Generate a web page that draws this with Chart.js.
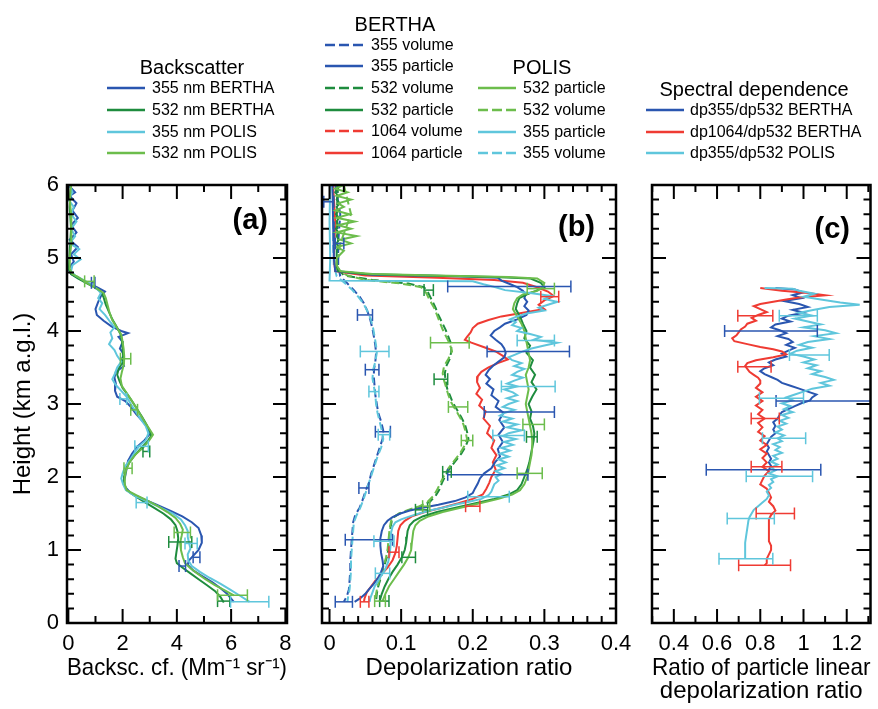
<!DOCTYPE html>
<html>
<head>
<meta charset="utf-8">
<title>Backscatter and depolarization profiles</title>
<script src="https://cdn.jsdelivr.net/npm/chart.js@4.4.1/dist/chart.umd.min.js"></script>
<style>
  html, body { margin: 0; padding: 0; background: #fff; }
  #wrap { position: relative; width: 878px; height: 709px; overflow: hidden; font-family: "Liberation Sans", Arial, sans-serif; color: #000; }
  #wrap canvas { position: absolute; top: 0; }
  .hd { position: absolute; font-size: 20px; line-height: 20px; white-space: nowrap; transform: translate(-50%, -50%); }
  .it { position: absolute; font-size: 16px; line-height: 16px; white-space: nowrap; }
  .ln { position: absolute; overflow: visible; }
  .pl { position: absolute; width: 80px; text-align: right; font-weight: bold; font-size: 29px; line-height: 29px; }
</style>
</head>
<body>
<div id="wrap">
  <canvas id="cA" width="300" height="709" style="left:0"></canvas>
  <canvas id="cB" width="340" height="709" style="left:300px"></canvas>
  <canvas id="cC" width="248" height="709" style="left:630px"></canvas>
  <div class="pl" style="left:188px;top:205px">(a)</div>
  <div class="pl" style="left:515px;top:212px">(b)</div>
  <div class="pl" style="left:770px;top:214px">(c)</div>
</div>
<script>
// axis ticks
const hTicks = [0, 1, 2, 3, 4, 5, 6];
const xTicksA = [0, 2, 4, 6, 8];
const xTicksB = [0, 0.1, 0.2, 0.3, 0.4];
const xTicksC = [0.4, 0.6, 0.8, 1, 1.2];

// (a) backscatter coefficient, Mm-1 sr-1
const hBsc355B = [6.0,5.9,5.85,5.75,5.65,5.55,5.45,5.35,5.25,5.15,5.05,4.95,4.85,4.78,4.72,4.66,4.6,4.54,4.48,4.4,4.3,4.22,4.14,4.06,4.0,3.97,3.92,3.85,3.76,3.68,3.6,3.52,3.44,3.36,3.28,3.18,3.1,3.04,2.96,2.86,2.76,2.66,2.58,2.5,2.42,2.32,2.22,2.12,2.02,1.94,1.86,1.78,1.7,1.62,1.54,1.46,1.38,1.3,1.2,1.1,1.0,0.92,0.86,0.8,0.72,0.64,0.56,0.48,0.4,0.29];
const bsc355B = [0,0.25,0.05,0.3,0.15,0.35,0.1,0.3,0.05,0.35,0.1,0.2,0,0.1,0.4,0.7,1.05,1.35,1.2,1.1,1.0,1.05,1.3,1.6,1.95,2.2,1.85,2.0,1.9,2.05,1.95,2.05,1.75,1.7,1.75,1.72,1.8,2.1,2.3,2.5,2.75,2.95,2.98,2.8,2.55,2.35,2.2,2.15,2.1,2.05,2.1,2.3,2.75,3.25,3.75,4.2,4.55,4.8,4.9,4.92,4.8,4.6,4.45,4.4,4.6,4.95,5.3,5.6,5.85,6.1];
const hBsc532B = [6.0,5.7,5.4,5.1,4.85,4.78,4.72,4.66,4.6,4.54,4.46,4.36,4.26,4.16,4.06,3.96,3.86,3.76,3.66,3.56,3.48,3.4,3.32,3.22,3.12,3.02,2.92,2.82,2.72,2.62,2.56,2.48,2.4,2.3,2.2,2.1,2.0,1.9,1.82,1.74,1.66,1.58,1.5,1.42,1.34,1.26,1.16,1.06,0.96,0.88,0.82,0.76,0.68,0.6,0.52,0.44,0.36,0.28];
const bsc532B = [0.1,0.05,0.1,0.05,0.02,0.1,0.35,0.65,0.95,1.2,1.3,1.38,1.5,1.62,1.78,1.92,1.98,2.0,2.02,1.98,1.85,1.8,1.88,2.0,2.2,2.38,2.55,2.72,2.88,3.02,3.05,2.9,2.7,2.45,2.25,2.12,2.05,2.06,2.15,2.45,2.8,3.15,3.5,3.78,3.95,4.02,4.05,4.02,3.98,3.95,4.0,4.2,4.5,4.8,5.1,5.4,5.6,5.73];
const hBsc355P = [6.0,5.9,5.8,5.7,5.6,5.5,5.4,5.3,5.2,5.12,5.05,4.98,4.9,4.82,4.76,4.7,4.64,4.58,4.52,4.45,4.38,4.3,4.22,4.12,4.05,3.98,3.9,3.82,3.74,3.66,3.58,3.5,3.42,3.34,3.26,3.18,3.1,3.0,2.9,2.8,2.7,2.6,2.5,2.42,2.34,2.25,2.15,2.05,1.98,1.9,1.82,1.74,1.66,1.58,1.5,1.42,1.34,1.26,1.18,1.1,1.02,0.94,0.86,0.78,0.7,0.62,0.54,0.46,0.38,0.29];
const bsc355P = [0.05,0.15,0,0.2,0.1,0.3,0.1,0.25,0.05,0.4,0.2,0.45,0.15,0.1,0.25,0.55,0.85,1.05,1.2,1.1,1.25,1.15,1.35,1.55,1.7,1.55,1.62,1.5,1.7,1.8,1.95,1.8,1.72,1.62,1.75,1.95,2.15,2.3,2.48,2.65,2.85,2.95,2.85,2.6,2.45,2.3,2.1,2.0,1.95,2.02,2.12,2.45,2.95,3.4,3.85,4.15,4.3,4.4,4.4,4.45,4.5,4.4,4.42,4.55,4.85,5.2,5.6,5.95,6.3,6.68];
const hBsc532P = [6.0,5.8,5.6,5.4,5.2,5.0,4.85,4.78,4.74,4.68,4.62,4.57,4.52,4.45,4.35,4.25,4.15,4.05,3.95,3.85,3.75,3.65,3.55,3.45,3.35,3.25,3.15,3.05,2.95,2.85,2.75,2.65,2.58,2.5,2.4,2.3,2.2,2.1,2.0,1.9,1.82,1.75,1.68,1.6,1.52,1.44,1.36,1.28,1.2,1.1,1.0,0.9,0.82,0.75,0.68,0.6,0.52,0.45,0.38];
const bsc532P = [0.1,0.05,0.1,0.12,0.1,0.05,0.05,0.15,0.35,0.6,0.85,1.1,1.3,1.38,1.45,1.52,1.62,1.78,1.95,2.0,2.04,2.06,2.05,1.98,1.92,1.97,2.15,2.33,2.5,2.66,2.82,3.0,3.12,2.98,2.75,2.45,2.25,2.13,2.08,2.08,2.15,2.5,2.9,3.3,3.65,3.95,4.12,4.22,4.18,4.12,4.15,4.22,4.3,4.5,4.75,5.05,5.4,5.75,6.1];
// error bars [height, low, high]
const errBsc355B = [[4.66,0.85,0.98],[0.9,4.6,4.85],[0.78,4.08,4.32]];
const errBsc532B = [[1.11,3.7,4.55],[2.35,2.75,3.0],[0.3,5.5,5.95]];
const errBsc355P = [[3.07,1.9,2.15],[2.42,2.45,2.95],[1.65,2.5,2.9],[1.09,4.3,4.75],[0.29,5.98,7.39]];
const errBsc532P = [[4.68,0.6,0.95],[3.62,1.92,2.3],[2.92,2.3,2.55],[2.12,2.05,2.35],[1.24,3.9,4.5],[0.38,5.5,6.6]];

// (b) depolarization ratio
const hVol355 = [6.0,5.6,5.2,4.9,4.75,4.65,4.56,4.47,4.38,4.27,4.15,4.03,3.92,3.8,3.7,3.58,3.47,3.35,3.24,3.12,3.0,2.88,2.76,2.64,2.52,2.4,2.28,2.16,2.04,1.92,1.8,1.68,1.58,1.48,1.38,1.26,1.14,1.0,0.86,0.72,0.58,0.46,0.36,0.29];
const vol355B = [0.008,0.015,0.012,0.012,0.015,0.025,0.034,0.042,0.048,0.053,0.057,0.06,0.062,0.064,0.065,0.064,0.062,0.062,0.063,0.064,0.066,0.068,0.072,0.075,0.074,0.07,0.066,0.062,0.058,0.055,0.05,0.046,0.042,0.036,0.033,0.032,0.031,0.03,0.029,0.029,0.028,0.027,0.024,0.02];
const vol355P = [0.004,0.006,0.005,0.006,0.01,0.022,0.032,0.04,0.047,0.053,0.058,0.061,0.063,0.065,0.066,0.064,0.061,0.06,0.062,0.064,0.065,0.067,0.07,0.073,0.075,0.072,0.067,0.063,0.059,0.055,0.051,0.047,0.043,0.038,0.034,0.033,0.032,0.031,0.03,0.03,0.029,0.028,0.026,0.025];
const hVol532 = [6.0,5.6,5.2,4.85,4.76,4.7,4.65,4.6,4.52,4.42,4.32,4.22,4.12,4.02,3.92,3.82,3.72,3.62,3.52,3.42,3.32,3.22,3.12,3.02,2.92,2.82,2.72,2.62,2.52,2.42,2.32,2.22,2.12,2.02,1.92,1.82,1.74,1.66,1.6,1.55,1.5,1.45,1.4,1.3,1.2,1.1,1.0,0.9,0.8,0.7,0.6,0.5,0.4,0.3];
const vol532B = [0.012,0.01,0.012,0.012,0.02,0.06,0.11,0.132,0.138,0.143,0.148,0.152,0.157,0.162,0.166,0.17,0.17,0.168,0.163,0.161,0.162,0.164,0.168,0.172,0.178,0.184,0.189,0.192,0.194,0.19,0.184,0.176,0.168,0.162,0.157,0.153,0.148,0.14,0.128,0.112,0.098,0.09,0.087,0.085,0.084,0.083,0.082,0.08,0.077,0.074,0.071,0.068,0.066,0.065];
const vol532P = [0.02,0.03,0.015,0.01,0.025,0.05,0.1,0.128,0.135,0.14,0.146,0.15,0.154,0.158,0.163,0.168,0.171,0.166,0.16,0.158,0.16,0.163,0.166,0.17,0.176,0.182,0.187,0.19,0.192,0.188,0.182,0.174,0.166,0.16,0.155,0.15,0.145,0.137,0.126,0.11,0.097,0.089,0.086,0.084,0.083,0.082,0.081,0.079,0.076,0.073,0.07,0.067,0.065,0.064];
const hPar532 = [6.0,5.95,5.9,5.85,5.8,5.75,5.7,5.65,5.6,5.55,5.5,5.45,5.4,5.35,5.3,5.25,5.2,5.15,5.1,5.0,4.9,4.82,4.78,4.76,4.74,4.72,4.66,4.6,4.55,4.5,4.45,4.38,4.3,4.2,4.1,4.0,3.9,3.8,3.7,3.6,3.5,3.4,3.3,3.2,3.1,3.0,2.9,2.8,2.7,2.6,2.5,2.4,2.3,2.2,2.1,2.0,1.9,1.82,1.76,1.7,1.64,1.58,1.52,1.46,1.4,1.34,1.26,1.18,1.1,1.0,0.9,0.8,0.7,0.6,0.5,0.4,0.3];
const par532B = [0.01,0.012,0.008,0.012,0.01,0.014,0.01,0.012,0.009,0.013,0.01,0.012,0.009,0.012,0.01,0.013,0.01,0.012,0.01,0.01,0.01,0.012,0.05,0.13,0.23,0.28,0.295,0.3,0.288,0.275,0.265,0.262,0.26,0.266,0.27,0.275,0.272,0.28,0.275,0.284,0.28,0.287,0.282,0.289,0.283,0.278,0.282,0.28,0.284,0.286,0.285,0.283,0.281,0.279,0.276,0.272,0.268,0.262,0.25,0.23,0.204,0.176,0.15,0.13,0.118,0.112,0.109,0.108,0.107,0.105,0.101,0.095,0.088,0.082,0.077,0.073,0.07];
const par532P = [0.02,0.008,0.025,0.01,0.03,0.012,0.02,0.008,0.028,0.01,0.035,0.012,0.03,0.01,0.038,0.015,0.03,0.01,0.02,0.01,0.01,0.015,0.06,0.15,0.25,0.29,0.3,0.298,0.29,0.27,0.262,0.258,0.256,0.262,0.268,0.272,0.274,0.276,0.278,0.28,0.278,0.274,0.276,0.278,0.276,0.274,0.276,0.278,0.28,0.282,0.283,0.283,0.282,0.28,0.278,0.276,0.272,0.266,0.255,0.236,0.21,0.183,0.158,0.138,0.126,0.12,0.117,0.116,0.115,0.114,0.11,0.104,0.097,0.09,0.083,0.078,0.074];
const hPar355B = [6.0,5.5,5.0,4.82,4.77,4.75,4.73,4.69,4.65,4.6,4.55,4.5,4.45,4.4,4.34,4.28,4.22,4.16,4.1,4.05,4.0,3.94,3.88,3.82,3.76,3.7,3.64,3.58,3.52,3.46,3.4,3.34,3.28,3.2,3.12,3.04,2.96,2.88,2.78,2.68,2.58,2.48,2.38,2.28,2.2,2.12,2.05,1.98,1.91,1.84,1.78,1.72,1.67,1.62,1.58,1.54,1.5,1.45,1.4,1.34,1.26,1.16,1.06,0.96,0.86,0.78,0.7,0.62,0.54,0.46,0.4,0.34,0.29];
const par355B = [0.004,0.005,0.006,0.008,0.06,0.18,0.235,0.24,0.25,0.262,0.27,0.274,0.272,0.276,0.272,0.278,0.275,0.262,0.245,0.238,0.23,0.225,0.232,0.24,0.244,0.246,0.244,0.236,0.228,0.222,0.218,0.224,0.219,0.229,0.226,0.236,0.232,0.243,0.237,0.244,0.236,0.242,0.235,0.238,0.231,0.226,0.216,0.21,0.207,0.203,0.2,0.19,0.175,0.152,0.13,0.112,0.099,0.088,0.081,0.076,0.073,0.071,0.071,0.072,0.074,0.075,0.072,0.068,0.062,0.055,0.05,0.043,0.035];
const hPar355P = [6.0,5.5,5.0,4.69,4.68,4.64,4.6,4.56,4.52,4.48,4.44,4.4,4.36,4.32,4.28,4.24,4.2,4.16,4.12,4.08,4.04,4.0,3.96,3.92,3.88,3.84,3.8,3.76,3.72,3.68,3.64,3.6,3.56,3.52,3.48,3.44,3.4,3.36,3.32,3.28,3.24,3.2,3.16,3.12,3.08,3.04,3.0,2.96,2.92,2.88,2.84,2.8,2.76,2.72,2.68,2.64,2.6,2.56,2.52,2.48,2.44,2.4,2.36,2.32,2.28,2.24,2.2,2.16,2.12,2.08,2.04,2.0,1.95,1.9,1.85,1.8,1.75,1.7,1.66,1.62,1.58,1.54,1.5,1.46,1.42,1.38,1.32,1.24,1.14,1.04,0.94,0.84,0.74,0.66,0.58,0.5,0.42,0.34,0.29];
const par355P = [0.001,0,0.001,0,0.2,0.215,0.232,0.245,0.28,0.31,0.3,0.318,0.305,0.292,0.3,0.275,0.262,0.252,0.26,0.255,0.268,0.262,0.28,0.295,0.285,0.318,0.3,0.282,0.27,0.26,0.25,0.255,0.268,0.258,0.272,0.262,0.255,0.27,0.258,0.248,0.262,0.244,0.256,0.262,0.248,0.262,0.25,0.242,0.258,0.245,0.238,0.255,0.242,0.262,0.248,0.268,0.25,0.242,0.26,0.244,0.256,0.24,0.252,0.238,0.25,0.236,0.246,0.234,0.244,0.232,0.24,0.232,0.236,0.23,0.228,0.226,0.222,0.212,0.195,0.175,0.158,0.14,0.125,0.112,0.1,0.092,0.088,0.086,0.085,0.085,0.084,0.082,0.078,0.073,0.068,0.063,0.06,0.057,0.056];
const hPar1064 = [6.0,5.5,5.0,4.82,4.76,4.73,4.7,4.66,4.6,4.54,4.48,4.42,4.36,4.3,4.25,4.2,4.15,4.1,4.04,3.98,3.92,3.88,3.84,3.78,3.72,3.66,3.61,3.56,3.5,3.44,3.38,3.3,3.22,3.14,3.06,2.98,2.9,2.8,2.7,2.6,2.5,2.4,2.3,2.2,2.1,2.0,1.92,1.84,1.76,1.7,1.64,1.58,1.52,1.46,1.4,1.34,1.26,1.16,1.06,0.96,0.86,0.76,0.66,0.58,0.5,0.42,0.34,0.29];
const par1064 = [0.005,0.008,0.006,0.008,0.05,0.15,0.23,0.27,0.29,0.305,0.313,0.3,0.292,0.3,0.27,0.24,0.222,0.207,0.2,0.197,0.192,0.189,0.198,0.215,0.232,0.242,0.249,0.235,0.222,0.212,0.207,0.206,0.21,0.205,0.213,0.209,0.218,0.215,0.224,0.22,0.23,0.226,0.233,0.228,0.232,0.226,0.223,0.219,0.214,0.2,0.18,0.157,0.133,0.115,0.105,0.099,0.096,0.095,0.094,0.092,0.088,0.081,0.072,0.064,0.058,0.052,0.049,0.048];
const errDp355B = [[5.77,-0.008,0.006],[5.2,0.008,0.02],[4.61,0.165,0.337],[4.22,0.039,0.06],[3.72,0.22,0.335],[3.47,0.05,0.069],[2.89,0.216,0.314],[2.62,0.064,0.085],[2.03,0.165,0.277],[1.85,0.041,0.055],[1.14,0.022,0.088],[0.29,0.008,0.032]];
const errDp355P = [[3.72,0.043,0.083],[3.17,0.055,0.069],[3.87,0.262,0.314],[3.24,0.24,0.315],[2.57,0.228,0.272],[2.58,0.068,0.084],[1.73,0.193,0.251],[1.12,0.062,0.09],[0.68,0.064,0.084]];
const errDp532B = [[4.56,0.132,0.145],[3.34,0.146,0.165],[2.55,0.275,0.29],[2.07,0.158,0.17],[1.55,0.12,0.137],[0.9,0.101,0.12],[0.3,0.07,0.083]];
const errDp532P = [[4.58,0.276,0.314],[3.84,0.141,0.195],[2.96,0.166,0.193],[2.72,0.27,0.3],[2.5,0.184,0.2],[2.05,0.262,0.297],[1.6,0.13,0.14],[0.3,0.063,0.078]];
const errDp1064 = [[4.47,0.295,0.32],[1.6,0.19,0.21],[0.97,0.083,0.097],[0.29,0.043,0.055]];

// (c) ratio of particle linear depolarization ratios
const hRat355B = [4.59,4.57,4.53,4.49,4.45,4.41,4.37,4.33,4.29,4.25,4.21,4.17,4.13,4.09,4.05,4.01,3.97,3.93,3.89,3.85,3.81,3.77,3.73,3.69,3.65,3.61,3.57,3.53,3.49,3.45,3.41,3.37,3.33,3.29,3.25,3.21,3.17,3.13,3.09,3.05,3.01,2.97,2.93,2.89,2.85,2.8,2.75,2.7,2.65,2.6,2.55,2.5,2.45,2.4,2.35,2.3,2.25,2.2,2.15,2.1];
const rat355B = [0.87,0.96,1.0,0.95,0.99,0.91,0.98,1.02,0.95,1.0,0.93,0.9,0.94,0.87,0.85,0.89,0.92,0.88,0.93,0.95,0.92,0.96,0.93,0.9,0.92,0.87,0.84,0.86,0.82,0.8,0.82,0.85,0.88,0.9,0.94,0.98,1.02,1.06,1.04,1.03,0.99,0.96,0.93,0.9,0.89,0.88,0.86,0.87,0.86,0.87,0.85,0.84,0.83,0.84,0.83,0.84,0.85,0.84,0.85,0.84];
const hRat1064 = [4.59,4.55,4.52,4.49,4.46,4.43,4.4,4.37,4.34,4.3,4.26,4.22,4.18,4.14,4.1,4.06,4.02,3.98,3.94,3.9,3.86,3.82,3.78,3.75,3.72,3.68,3.64,3.6,3.56,3.52,3.48,3.44,3.4,3.36,3.32,3.28,3.22,3.16,3.1,3.04,2.98,2.92,2.86,2.8,2.74,2.68,2.62,2.56,2.5,2.44,2.38,2.32,2.26,2.2,2.14,2.08,2.02,1.96,1.9,1.84,1.78,1.72,1.66,1.6,1.54,1.48,1.42,1.36,1.3,1.24,1.18,1.12,1.06,1.0,0.94,0.88,0.82,0.79];
const rat1064 = [0.8,0.9,1.02,1.1,0.98,0.92,0.86,0.8,0.77,0.8,0.83,0.79,0.76,0.78,0.74,0.73,0.71,0.7,0.69,0.67,0.68,0.74,0.8,0.86,0.9,0.92,0.86,0.78,0.74,0.73,0.74,0.75,0.77,0.79,0.8,0.8,0.78,0.81,0.78,0.81,0.78,0.81,0.79,0.82,0.79,0.81,0.79,0.82,0.8,0.83,0.8,0.83,0.81,0.83,0.81,0.84,0.82,0.81,0.8,0.83,0.84,0.85,0.84,0.86,0.87,0.85,0.84,0.84,0.84,0.84,0.84,0.84,0.85,0.85,0.84,0.83,0.83,0.82];
const hRat355P = [4.59,4.58,4.55,4.51,4.47,4.43,4.39,4.36,4.33,4.29,4.25,4.21,4.17,4.13,4.09,4.05,4.01,3.97,3.93,3.89,3.85,3.81,3.77,3.73,3.69,3.65,3.61,3.57,3.53,3.49,3.45,3.41,3.37,3.33,3.29,3.25,3.21,3.17,3.13,3.09,3.05,3.01,2.97,2.93,2.89,2.85,2.81,2.77,2.73,2.69,2.65,2.61,2.57,2.53,2.49,2.45,2.41,2.37,2.33,2.29,2.25,2.21,2.17,2.13,2.09,2.05,2.01,1.97,1.93,1.89,1.85,1.8,1.75,1.7,1.65,1.6,1.55,1.5,1.45,1.4,1.3,1.2,1.1,1.0,0.88];
const rat355P = [0.82,0.95,0.98,1.05,1.0,1.08,1.17,1.26,1.12,1.05,0.98,1.04,0.96,1.02,1.08,1.0,1.1,1.15,1.05,1.12,1.02,0.98,1.04,0.97,0.94,1.0,1.05,1.0,1.06,1.02,1.08,1.04,1.1,1.14,1.08,1.12,1.04,1.0,0.96,0.92,0.95,0.9,0.94,0.91,0.95,0.9,0.93,0.89,0.92,0.88,0.9,0.87,0.91,0.88,0.9,0.86,0.89,0.87,0.9,0.86,0.88,0.85,0.88,0.85,0.87,0.84,0.88,0.85,0.86,0.84,0.85,0.83,0.84,0.83,0.81,0.79,0.77,0.76,0.75,0.745,0.74,0.735,0.73,0.73,0.73];
const errRat355B = [[4.0,0.635,1.064],[3.04,0.873,1.35],[2.1,0.55,1.08]];
const errRat1064 = [[4.21,0.696,0.858],[3.51,0.696,0.85],[2.8,0.758,0.888],[2.14,0.758,0.9],[1.5,0.781,0.958],[0.79,0.7,0.94]];
const errRat355P = [[4.21,0.888,1.064],[3.67,0.935,1.119],[3.08,0.796,1.0],[2.53,0.81,1.01],[2.01,0.735,1.042],[1.43,0.647,0.865],[0.88,0.609,0.858]];

const BLUE = '#2a56b0', DGREEN = '#1e8c3e', CYAN = '#5fc6dc', LGREEN = '#6cbd4c', RED = '#ef3b33';

Chart.defaults.font.family = '"Liberation Sans", Arial, sans-serif';
Chart.defaults.color = '#000';

function steps(from, to, step) {
    let out = [];
    for (let v = from; v <= to + 1e-9; v += step) out.push(Math.round(v * 1000) / 1000);
    return out;
}

function line(hs, xs, color, dashed) {
    return {
        data: xs.map((v, i) => ({ x: v, y: hs[i] })),
        showLine: true, borderColor: color, borderWidth: 2,
        borderDash: dashed ? [8, 4] : [],
        pointRadius: 0, pointHoverRadius: 0, fill: false, tension: 0
    };
}

function bars(list, color) {
    return list.map(([h, lo, hi]) => ({
        data: [{ x: lo, y: h }, { x: hi, y: h }],
        showLine: true, borderColor: color, borderWidth: 1.5,
        pointStyle: 'line', pointRadius: 6, pointRotation: 90,
        pointBorderColor: color, pointBackgroundColor: color, pointBorderWidth: 1.5,
        pointHoverRadius: 6
    }));
}

// frame with inward ticks on all four sides
function frameTicks(xMajor, xMinor) {
    const yMajor = hTicks, yMinor = steps(0, 6, 0.2);
    return {
        id: 'frameTicks',
        afterDatasetsDraw(chart) {
            const { ctx, chartArea: a, scales: { x, y } } = chart;
            ctx.save();
            ctx.strokeStyle = '#000';
            ctx.lineWidth = 2;
            ctx.beginPath();
            const mark = (vals, len, horiz) => vals.forEach(v => {
                if (horiz) {
                    const px = x.getPixelForValue(v);
                    ctx.moveTo(px, a.bottom); ctx.lineTo(px, a.bottom - len);
                    ctx.moveTo(px, a.top); ctx.lineTo(px, a.top + len);
                } else {
                    const py = y.getPixelForValue(v);
                    ctx.moveTo(a.left, py); ctx.lineTo(a.left + len, py);
                    ctx.moveTo(a.right, py); ctx.lineTo(a.right - len, py);
                }
            });
            mark(xMajor, 14, true); mark(xMinor, 7, true);
            mark(yMajor, 14, false); mark(yMinor, 7, false);
            ctx.stroke();
            ctx.lineWidth = 2.5;
            ctx.strokeRect(a.left, a.top, a.right - a.left, a.bottom - a.top);
            ctx.restore();
        }
    };
}

function panel(id, p) {
    const showY = !!p.yTitle;
    return new Chart(document.getElementById(id), {
        type: 'scatter',
        data: { datasets: p.datasets },
        options: {
            responsive: false, animation: false, events: [],
            layout: { padding: { top: 185, right: p.padRight, left: 0, bottom: 0 } },
            plugins: { legend: { display: false }, tooltip: { enabled: false } },
            scales: {
                x: {
                    type: 'linear', position: 'bottom', min: p.xmin, max: p.xmax,
                    afterBuildTicks: s => { s.ticks = p.xTicks.map(v => ({ value: v })); },
                    afterFit: s => { s.height = 86; },
                    grid: { display: false, drawTicks: false }, border: { display: false },
                    ticks: { font: { size: 22 }, padding: 8, maxRotation: 0, autoSkip: false,
                             callback: v => String(+(+v).toFixed(2)) },
                    title: { display: true, text: p.xTitle,
                             font: { size: 24, lineHeight: p.xTitleLH },
                             padding: { top: 0, bottom: p.xTitlePad } }
                },
                y: {
                    type: 'linear', position: 'left', min: 0, max: 6,
                    afterBuildTicks: s => { s.ticks = hTicks.map(v => ({ value: v })); },
                    afterFit: s => { s.width = p.yWidth; },
                    grid: { display: false, drawTicks: false }, border: { display: false },
                    ticks: { display: showY, font: { size: 22 }, padding: 8, callback: v => String(v) },
                    title: { display: showY, text: p.yTitle || '', font: { size: 24, lineHeight: 1 },
                             padding: { top: 11, bottom: 0 } }
                }
            }
        },
        plugins: [frameTicks(p.xTicks, p.xMinor)]
    });
}

panel('cA', {
    xmin: -0.05, xmax: 8.06, xTicks: xTicksA, xMinor: [1, 3, 5, 7],
    xTitle: 'Backsc. cf. (Mm\u207B\u00B9 sr\u207B\u00B9)', xTitleLH: 1, xTitlePad: 29,
    yTitle: 'Height (km a.g.l.)', yWidth: 67, padRight: 13,
    datasets: [
        ...bars(errBsc532P, LGREEN), ...bars(errBsc355P, CYAN),
        ...bars(errBsc532B, DGREEN), ...bars(errBsc355B, BLUE),
        line(hBsc532P, bsc532P, LGREEN), line(hBsc355P, bsc355P, CYAN),
        line(hBsc532B, bsc532B, DGREEN), line(hBsc355B, bsc355B, BLUE)
    ]
});

panel('cB', {
    xmin: -0.0105, xmax: 0.4, xTicks: xTicksB,
    xMinor: steps(0, 0.4, 0.02).filter(v => Math.abs(v * 10 - Math.round(v * 10)) > 1e-6),
    xTitle: 'Depolarization ratio', xTitleLH: 1, xTitlePad: 29,
    yWidth: 22, padRight: 24,
    datasets: [
        ...bars(errDp355P, CYAN), ...bars(errDp532P, LGREEN), ...bars(errDp532B, DGREEN),
        ...bars(errDp355B, BLUE), ...bars(errDp1064, RED),
        line(hPar355P, par355P, CYAN), line(hPar532, par532P, LGREEN),
        line(hPar532, par532B, DGREEN), line(hPar355B, par355B, BLUE),
        line(hPar1064, par1064, RED),
        line(hVol355, vol355P, CYAN, true), line(hVol355, vol355B, BLUE, true),
        line(hVol532, vol532P, LGREEN, true), line(hVol532, vol532B, DGREEN, true)
    ]
});

panel('cC', {
    xmin: 0.299, xmax: 1.31, xTicks: xTicksC, xMinor: steps(0.3, 1.3, 0.2),
    xTitle: ['Ratio of particle linear', 'depolarization ratio'], xTitleLH: 0.96, xTitlePad: 6.5,
    yWidth: 22, padRight: 6,
    datasets: [
        ...bars(errRat355P, CYAN), ...bars(errRat1064, RED), ...bars(errRat355B, BLUE),
        line(hRat355P, rat355P, CYAN), line(hRat1064, rat1064, RED), line(hRat355B, rat355B, BLUE)
    ]
});

// legends
const legendGroups = [
    { title: 'Backscatter', cx: 192, cy: 67, lx: 107, tx: 152, y0: 88.3, items: [
        ['355 nm BERTHA', BLUE, false], ['532 nm BERTHA', DGREEN, false],
        ['355 nm POLIS', CYAN, false], ['532 nm POLIS', LGREEN, false]] },
    { title: 'BERTHA', cx: 395, cy: 23.5, lx: 325, tx: 371, y0: 44.5, items: [
        ['355 volume', BLUE, true], ['355 particle', BLUE, false],
        ['532 volume', DGREEN, true], ['532 particle', DGREEN, false],
        ['1064 volume', RED, true], ['1064 particle', RED, false]] },
    { title: 'POLIS', cx: 542, cy: 67, lx: 478, tx: 523, y0: 88.3, items: [
        ['532 particle', LGREEN, false], ['532 volume', LGREEN, true],
        ['355 particle', CYAN, false], ['355 volume', CYAN, true]] },
    { title: 'Spectral dependence', cx: 754, cy: 88.5, lx: 646, tx: 690, y0: 110, items: [
        ['dp355/dp532 BERTHA', BLUE, false], ['dp1064/dp532 BERTHA', RED, false],
        ['dp355/dp532 POLIS', CYAN, false]] }
];

const wrap = document.getElementById('wrap');
legendGroups.forEach(g => {
    const hd = document.createElement('div');
    hd.className = 'hd';
    hd.textContent = g.title;
    hd.style.left = g.cx + 'px';
    hd.style.top = g.cy + 'px';
    wrap.appendChild(hd);
    g.items.forEach(([label, color, dashed], i) => {
        const y = g.y0 + i * 21.7;
        const svg = document.createElementNS('http://www.w3.org/2000/svg', 'svg');
        svg.setAttribute('class', 'ln');
        svg.setAttribute('width', '38');
        svg.setAttribute('height', '6');
        svg.style.left = g.lx + 'px';
        svg.style.top = (y - 3) + 'px';
        const l = document.createElementNS('http://www.w3.org/2000/svg', 'line');
        l.setAttribute('x1', '0'); l.setAttribute('x2', '38');
        l.setAttribute('y1', '3'); l.setAttribute('y2', '3');
        l.setAttribute('stroke', color); l.setAttribute('stroke-width', '2.5');
        if (dashed) l.setAttribute('stroke-dasharray', '10 4');
        svg.appendChild(l);
        wrap.appendChild(svg);
        const t = document.createElement('div');
        t.className = 'it';
        t.textContent = label;
        t.style.left = g.tx + 'px';
        t.style.top = (y - 8) + 'px';
        wrap.appendChild(t);
    });
});
</script>
</body>
</html>
